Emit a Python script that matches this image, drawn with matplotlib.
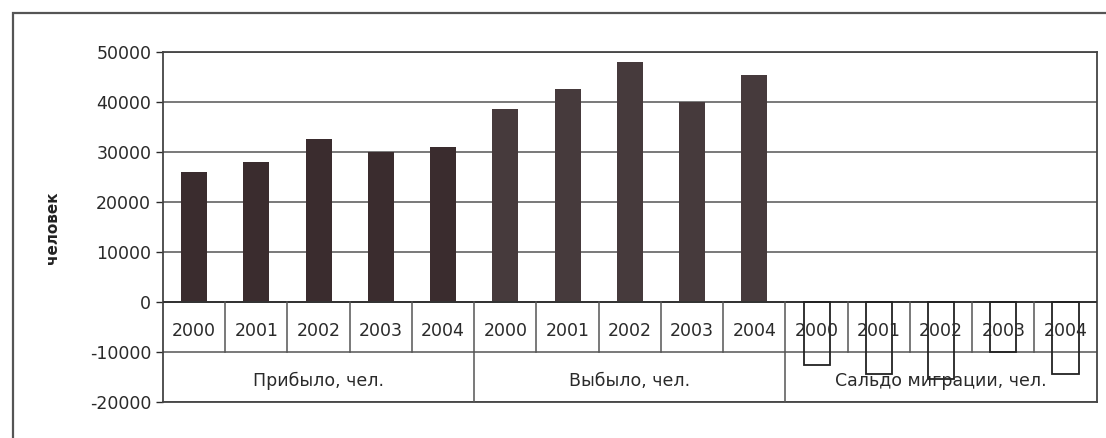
import numpy as np
import matplotlib.pyplot as plt
from matplotlib.patches import Rectangle

years = ["2000", "2001", "2002", "2003", "2004"]
groups = ["Прибыло, чел.", "Выбыло, чел.", "Сальдо миграции, чел."]
arrived = [26000, 28000, 32700, 30000, 31000]
departed = [38700, 42600, 48000, 40100, 45400]
balance = [-12600, -14400, -15300, -10000, -14300]

plt.rcParams['font.family'] = ['DejaVu Sans']
plt.rcParams['axes.unicode_minus'] = False

fig = plt.figure(figsize=(11.06, 4.38), dpi=100)
ax = fig.add_axes([163 / 1106, 36 / 438, 0.8442, 0.799])

n = len(years)
x1 = np.arange(n)
x2 = np.arange(n) + n
x3 = np.arange(n) + 2 * n
w = 0.42

ax.bar(x1, arrived, width=w, color="#3a2c2e", zorder=3)
ax.bar(x2, departed, width=w, color="#463a3c", zorder=3)
ax.bar(x3, balance, width=w, facecolor="none", edgecolor="#222222", linewidth=1.3, zorder=5)

ax.set_xlim(-0.5, 3 * n - 0.5)
ax.set_ylim(-20000, 50000)
ax.set_yticks(np.arange(-20000, 50001, 10000))
ax.set_xticks([])
ax.yaxis.grid(True, color="#555555", linewidth=1.1)
ax.set_axisbelow(True)
ax.tick_params(axis="y", labelsize=12.5, colors="#2a2a2a", length=5, width=1)
for s in ax.spines.values():
    s.set_color("#444444")
    s.set_linewidth(1.3)

# category axis at zero
ax.axhline(0, color="#333333", linewidth=1.4, zorder=4)

# year labels and separators
for g in range(3):
    for i, yr in enumerate(years):
        ax.text(g * n + i, -5800, yr, ha="center", va="center", fontsize=12.5,
                color="#2a2a2a", zorder=6)
        if i < n - 1:
            ax.plot([g * n + i + 0.5] * 2, [0, -10000], color="#555555",
                    linewidth=1.1, zorder=4)
    ax.text(g * n + (n - 1) / 2, -15800, groups[g], ha="center", va="center",
            fontsize=12.5, color="#2a2a2a", zorder=6)
    if g < 2:
        ax.plot([g * n + n - 0.5] * 2, [0, -20000], color="#555555",
                linewidth=1.1, zorder=4)

fig.text(53 / 1106, 1 - 228 / 438, "человек", rotation=90, ha="center",
         va="center", fontsize=11, fontweight="bold", color="#222222")

# outer chart border
fig.patches.append(Rectangle((13 / 1106, -0.1), 1.2, 1.1 - 13 / 438,
                             transform=fig.transFigure, fill=False,
                             edgecolor="#555555", linewidth=1.6))

fig.savefig("out.png", dpi=100)
